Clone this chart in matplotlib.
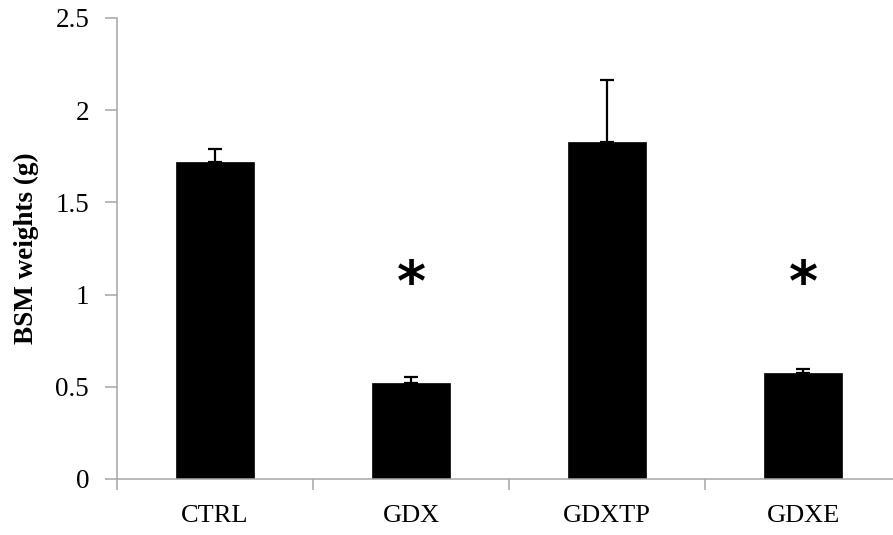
import matplotlib
matplotlib.use('Agg')
import numpy as np
from matplotlib import pyplot as plt

# data
groups = ['CTRL', 'GDX', 'GDXTP', 'GDXE']
weights = [1.716, 0.522, 1.824, 0.573]
errors = [0.072, 0.029, 0.339, 0.022]
stars = ['', '*', '', '*']
star_level = 1.05

plt.rcParams['font.family'] = ['Liberation Serif', 'DejaVu Serif']
axis_grey = '#a6a6a6'

fig = plt.figure(figsize=(8.93, 5.35), dpi=100)
ax = fig.add_axes([117/893, 1 - 479/535, 784/893, 461.25/535])

pos = np.arange(len(groups)) + 0.5
low = np.zeros(len(errors))
ax.bar(pos, weights, width=0.4, color='black', edgecolor='black', linewidth=0.5, zorder=2)
ax.errorbar(pos, weights, yerr=[low, errors], fmt='none', ecolor='black',
            elinewidth=1.6, capsize=5, capthick=1.6, zorder=3)

for p, s in zip(pos, stars):
    if s:
        ax.text(p, star_level, s, ha='center', va='center', fontsize=40,
                fontweight='bold', family='DejaVu Sans')

ax.set_xlim(0, 4)
ax.set_ylim(0, 2.5)
ax.set_yticks([0, 0.5, 1, 1.5, 2, 2.5])
ax.set_yticklabels(['0', '0.5', '1', '1.5', '2', '2.5'], fontsize=19.5)

# category boundaries as major ticks, names on minor ticks
ax.set_xticks([0, 1, 2, 3, 4])
ax.set_xticklabels([])
ax.set_xticks(pos, minor=True)
ax.set_xticklabels(groups, minor=True, fontsize=19)
ax.tick_params(axis='x', which='major', direction='out', length=8, width=1.1, color=axis_grey)
ax.tick_params(axis='x', which='minor', length=0, pad=19)
ax.tick_params(axis='y', direction='out', length=9, width=1.1, color=axis_grey, pad=11)

for side in ['top', 'right']:
    ax.spines[side].set_visible(False)
for side in ['left', 'bottom']:
    ax.spines[side].set_color(axis_grey)
    ax.spines[side].set_linewidth(1.1)

ax.set_ylabel('BSM weights (g)', fontsize=19.5, fontweight='bold', labelpad=12)

fig.savefig('out.png', dpi=100)
